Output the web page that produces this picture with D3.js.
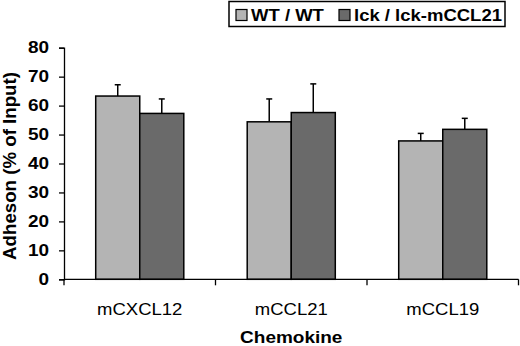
<!DOCTYPE html>
<html>
<head>
<meta charset="utf-8">
<script src="https://cdn.jsdelivr.net/npm/d3@7"></script>
<style>
  body { margin: 0; background: #fff; }
  text { font-family: Arial, "Liberation Sans", sans-serif; }
</style>
</head>
<body>
<div id="chart"></div>
<script>
const categories = ["mCXCL12", "mCCL21", "mCCL19"];
const seriesNames = ["WT / WT", "lck / lck-mCCL21"];
const wtMeans = [63.3, 54.4, 47.8];
const wtErrors = [3.9, 7.9, 2.6];
const lckMeans = [57.3, 57.6, 51.8];
const lckErrors = [5.0, 9.9, 3.8];
const yTicks = [0, 10, 20, 30, 40, 50, 60, 70, 80];
const colors = ["#b4b4b4", "#6a6a6a"];

const W = 520, H = 346;
const x0 = 64, x1 = 518.5, yTop = 47.7, yBottom = 279.3;
const squash = 0.87; // the original text is a bit flattened

const svg = d3.select("#chart")
    .append("svg")
    .attr("width", W)
    .attr("height", H);

const x = d3.scaleBand()
    .domain(categories)
    .range([x0, x1])
    .padding(0);

const xSub = d3.scaleBand()
    .domain(seriesNames)
    .range([0, x.bandwidth()])
    .paddingInner(0)
    .paddingOuter(0.72);

const y = d3.scaleLinear()
    .domain([0, 80])
    .range([yBottom, yTop]);

const color = d3.scaleOrdinal().domain(seriesNames).range(colors);

const rows = categories.map((c, i) => ({
    cat: c,
    bars: [
        { key: seriesNames[0], value: wtMeans[i], err: wtErrors[i] },
        { key: seriesNames[1], value: lckMeans[i], err: lckErrors[i] }
    ]
}));

// helper: flattened text placed at (px, py)
function label(parent, px, py, str, size, bold, anchor) {
    return parent.append("text")
        .attr("transform", `translate(${px},${py}) scale(1,${squash})`)
        .attr("text-anchor", anchor || "start")
        .style("font-size", size + "px")
        .style("font-weight", bold ? "bold" : "normal")
        .text(str);
}

const groups = svg.append("g")
    .selectAll("g")
    .data(rows)
    .join("g")
    .attr("transform", d => `translate(${x(d.cat)},0)`);

// error bars (upper half only)
groups.selectAll("line.err")
    .data(d => d.bars)
    .join("line")
    .attr("class", "err")
    .attr("x1", d => xSub(d.key) + xSub.bandwidth() / 2)
    .attr("x2", d => xSub(d.key) + xSub.bandwidth() / 2)
    .attr("y1", d => y(d.value))
    .attr("y2", d => y(d.value + d.err))
    .attr("stroke", "#000")
    .attr("stroke-width", 1.5);

groups.selectAll("line.cap")
    .data(d => d.bars)
    .join("line")
    .attr("class", "cap")
    .attr("x1", d => xSub(d.key) + xSub.bandwidth() / 2 - 3)
    .attr("x2", d => xSub(d.key) + xSub.bandwidth() / 2 + 3)
    .attr("y1", d => y(d.value + d.err))
    .attr("y2", d => y(d.value + d.err))
    .attr("stroke", "#000")
    .attr("stroke-width", 1.5);

groups.selectAll("rect")
    .data(d => d.bars)
    .join("rect")
    .attr("x", d => xSub(d.key))
    .attr("y", d => y(d.value))
    .attr("width", xSub.bandwidth())
    .attr("height", d => y(0) - y(d.value))
    .attr("fill", d => color(d.key))
    .attr("stroke", "#000")
    .attr("stroke-width", 1.5);

// y axis
const yAxis = svg.append("g")
    .attr("transform", `translate(${x0},0)`)
    .call(d3.axisLeft(y).tickValues(yTicks).tickSize(5).tickPadding(10));
yAxis.select(".domain").attr("stroke-width", 1.3);
yAxis.selectAll(".tick line").attr("stroke-width", 1.3);
yAxis.selectAll(".tick text")
    .attr("transform", `scale(1,${squash})`)
    .style("font-size", "19px")
    .style("font-weight", "bold")
    .attr("fill", "#000");

// x axis: ticks at category boundaries
const boundaries = [x0].concat(categories.map(c => x(c) + x.bandwidth()));
const xAxis = svg.append("g")
    .attr("transform", `translate(0,${yBottom})`);
xAxis.append("line")
    .attr("x1", x0).attr("x2", x1)
    .attr("stroke", "#000").attr("stroke-width", 1.3);
xAxis.selectAll("line.tk")
    .data(boundaries)
    .join("line")
    .attr("class", "tk")
    .attr("x1", d => d).attr("x2", d => d)
    .attr("y1", 0).attr("y2", 6)
    .attr("stroke", "#000").attr("stroke-width", 1.3);
categories.forEach(c => {
    label(xAxis, x(c) + x.bandwidth() / 2, 35.7, c, 18.5, false, "middle");
});

// axis titles
label(svg, (x0 + x1) / 2, 342.5, "Chemokine", 19, true, "middle");

svg.append("text")
    .attr("transform", `translate(16,${(yTop + yBottom) / 2 + 2.5}) rotate(-90)`)
    .attr("text-anchor", "middle")
    .style("font-size", "18.7px")
    .style("font-weight", "bold")
    .text("Adheson (% of Input)");

// legend
const legend = svg.append("g");
legend.append("rect")
    .attr("x", 229).attr("y", 1.5)
    .attr("width", 276).attr("height", 25)
    .attr("fill", "#fff")
    .attr("stroke", "#000").attr("stroke-width", 1.5);

const legendX = [236, 339];
seriesNames.forEach((name, i) => {
    legend.append("rect")
        .attr("x", legendX[i]).attr("y", 9.5)
        .attr("width", 11).attr("height", 11)
        .attr("fill", colors[i])
        .attr("stroke", "#000").attr("stroke-width", 1.2);
    label(legend, legendX[i] + 15, 21, name, 18.5, true, "start");
});
</script>
</body>
</html>
